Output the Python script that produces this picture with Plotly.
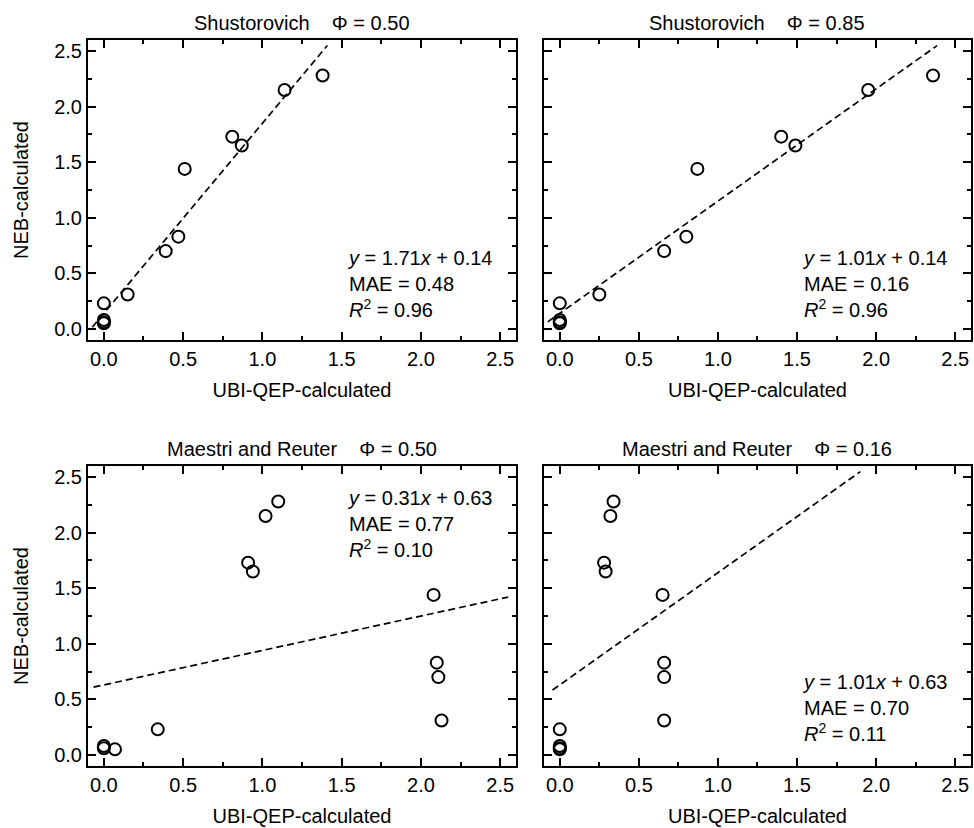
import plotly.graph_objects as go

# ---------------- data ----------------
neb = [0.23, 0.08, 0.06, 0.05, 0.31, 0.70, 0.83, 1.44, 1.73, 1.65, 2.15, 2.28]

ubi_shus_050 = [0.00, 0.00, 0.00, 0.00, 0.15, 0.39, 0.47, 0.51, 0.81, 0.87, 1.14, 1.38]
ubi_shus_085 = [0.00, 0.00, 0.00, 0.00, 0.25, 0.66, 0.80, 0.87, 1.40, 1.49, 1.95, 2.36]
ubi_mr_050 = [0.34, 0.00, 0.00, 0.07, 2.13, 2.11, 2.10, 2.08, 0.91, 0.94, 1.02, 1.10]
ubi_mr_016 = [0.00, 0.00, 0.00, 0.00, 0.66, 0.66, 0.66, 0.65, 0.28, 0.29, 0.32, 0.34]

panel_x = [ubi_shus_050, ubi_shus_085, ubi_mr_050, ubi_mr_016]
titles = ["Shustorovich\u00a0\u00a0\u00a0 Φ = 0.50", "Shustorovich\u00a0\u00a0\u00a0 Φ = 0.85",
          "Maestri and Reuter\u00a0\u00a0\u00a0 Φ = 0.50", "Maestri and Reuter\u00a0\u00a0\u00a0 Φ = 0.16"]
slopes = [1.71, 1.01, 0.31, 1.01]
intercepts = [0.14, 0.14, 0.63, 0.63]
fit_x_start = [-0.073, -0.076, -0.065, -0.046]
fit_x_end = [1.41, 2.386, 2.55, 1.90]
slope_txt = ["1.71", "1.01", "0.31", "1.01"]
intercept_txt = ["0.14", "0.14", "0.63", "0.63"]
mae_txt = ["0.48", "0.16", "0.77", "0.70"]
r2_txt = ["0.96", "0.96", "0.10", "0.11"]
stats_y = [0.40, 0.40, 2.08, 0.42]
stats_x = [1.52, 1.52, 1.52, 1.52]

tick_vals = [0.0, 0.5, 1.0, 1.5, 2.0, 2.5]
tick_text = ["0.0", "0.5", "1.0", "1.5", "2.0", "2.5"]
x_title = "UBI-QEP-calculated"
y_title = "NEB-calculated"

# ---------------- layout geometry ----------------
FONT = "Liberation Sans, Arial, Helvetica, sans-serif"
W, H = 974, 828
ML, MR, MT, MB = 88, 1, 40, 62
pw = W - ML - MR
ph = H - MT - MB
xdom = [[0, 429 / pw], [457 / pw, 1.0]]
ydom_top = [(766 - 340) / ph, 1.0]
ydom_bot = [0, 300 / ph]
doms = [(xdom[0], ydom_top), (xdom[1], ydom_top), (xdom[0], ydom_bot), (xdom[1], ydom_bot)]

fig = go.Figure()

def axis_common():
    return dict(range=[-0.1, 2.6], tickvals=tick_vals, ticktext=tick_text,
                ticks="inside", ticklen=8, tickwidth=1.5, tickcolor="black",
                showline=True, linecolor="black", linewidth=2, mirror="ticks",
                showgrid=False, zeroline=False,
                minor=dict(ticks="inside", ticklen=4, tickwidth=1.5, tickcolor="black",
                           tickvals=[0.25, 0.75, 1.25, 1.75, 2.25]),
                tickfont=dict(size=20, color="black", family=FONT))

annotations = []
for i in range(4):
    ax = "" if i == 0 else str(i + 1)
    xa, ya = "x" + ax, "y" + ax
    xs = [fit_x_start[i], fit_x_end[i]]
    ys = [slopes[i] * v + intercepts[i] for v in xs]
    fig.add_trace(go.Scatter(x=xs, y=ys, mode="lines", xaxis=xa, yaxis=ya,
                             line=dict(color="black", width=1.7, dash="7px,4px"),
                             showlegend=False, hoverinfo="skip"))
    fig.add_trace(go.Scatter(x=panel_x[i], y=neb, mode="markers", xaxis=xa, yaxis=ya,
                             marker=dict(symbol="circle-open", size=12, color="black",
                                         line=dict(color="black", width=2)),
                             showlegend=False))
    xd, yd = doms[i]
    xaxis = axis_common()
    xaxis.update(domain=xd, anchor=ya,
                 title=dict(text=x_title, font=dict(size=20, family=FONT, color="black"), standoff=14))
    yaxis = axis_common()
    yaxis.update(domain=yd, anchor=xa, range=[-0.1, 2.6])
    if i % 2 == 0:
        yaxis.update(title=dict(text=y_title, font=dict(size=20, family=FONT, color="black"), standoff=20))
    else:
        yaxis.update(showticklabels=False)
    fig.layout["xaxis" + ax] = xaxis
    fig.layout["yaxis" + ax] = yaxis

    annotations.append(dict(text=titles[i], xref=xa + " domain", yref=ya + " domain",
                            x=0.5, y=1.0, xanchor="center", yanchor="middle", yshift=17,
                            showarrow=False, font=dict(size=20, family=FONT, color="black")))
    stats = (f"<i>y</i> = {slope_txt[i]}<i>x</i> + {intercept_txt[i]}<br>"
             f"MAE = {mae_txt[i]}<br><i>R</i><sup>2</sup> = {r2_txt[i]}")
    annotations.append(dict(text=stats, xref=xa, yref=ya, x=stats_x[i], y=stats_y[i],
                            xanchor="left", yanchor="middle", align="left", showarrow=False,
                            font=dict(size=20, family=FONT, color="black")))

fig.update_layout(width=W, height=H, margin=dict(l=ML, r=MR, t=MT, b=MB, pad=0),
                  paper_bgcolor="white", plot_bgcolor="white",
                  font=dict(family=FONT, size=20, color="black"),
                  annotations=annotations, showlegend=False)

fig.write_html("out.html")
